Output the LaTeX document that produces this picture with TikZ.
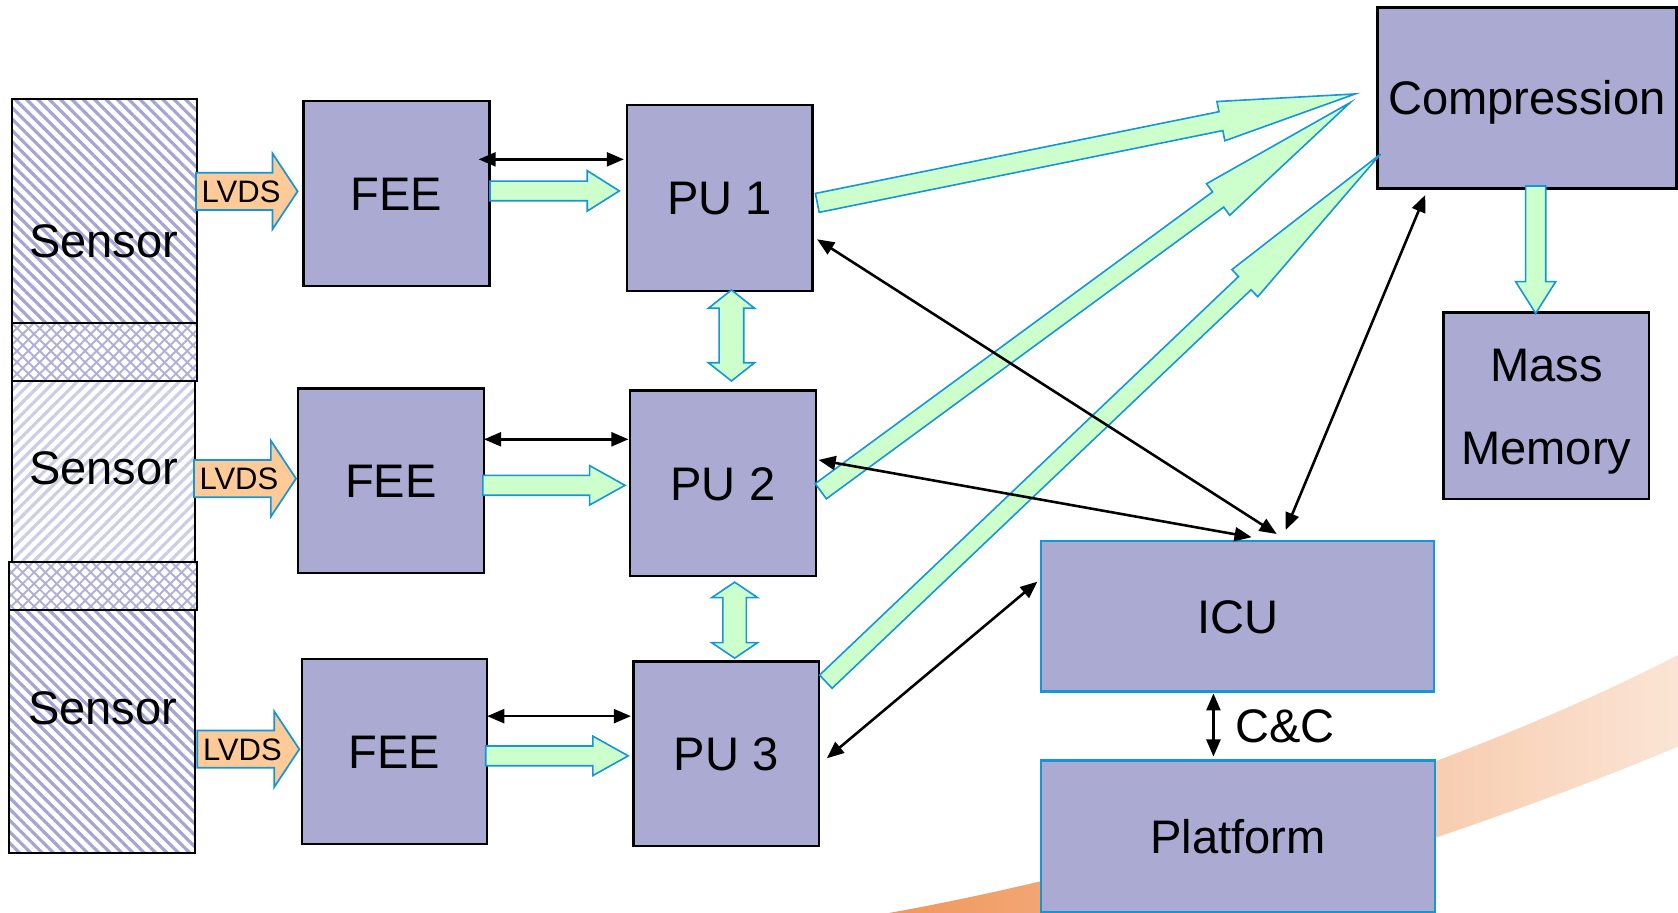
\documentclass[tikz,border=0pt]{standalone}
\usepackage{fontspec}
\setmainfont{Liberation Sans}
\usetikzlibrary{calc,arrows.meta,patterns.meta}
\definecolor{boxfill}{RGB}{170,170,211}
\definecolor{arrblue}{RGB}{20,150,215}
\definecolor{grn}{RGB}{204,255,204}
\definecolor{lvdsfill}{RGB}{253,202,152}
\definecolor{hatchA}{RGB}{165,165,212}
\definecolor{hatchB}{RGB}{205,205,230}
\definecolor{hatchC}{RGB}{175,175,215}
\definecolor{swL}{RGB}{240,150,90}
\definecolor{swR}{RGB}{251,229,214}
% block arrow: [style]{tail}{tip}{half shaft}{half head}{head length}
\newcommand\blockarrow[6][]{%
  \coordinate (baH) at ($(#3)!#6!(#2)$);
  \draw[#1] ($(#2)!#4!90:(#3)$) -- ($(baH)!#4!90:(#3)$) -- ($(baH)!#5!90:(#3)$) -- (#3)
    -- ($(baH)!#5!-90:(#3)$) -- ($(baH)!#4!-90:(#3)$) -- ($(#2)!#4!-90:(#3)$) -- cycle;}
% double block arrow: [style]{tipA}{tipB}{half shaft}{half head}{head length}
\newcommand\dblarrow[6][]{%
  \coordinate (dbA) at ($(#2)!#6!(#3)$);
  \coordinate (dbB) at ($(#3)!#6!(#2)$);
  \draw[#1] (#2) -- ($(dbA)!#5!90:(#3)$) -- ($(dbA)!#4!90:(#3)$) -- ($(dbB)!#4!-90:(#2)$)
    -- ($(dbB)!#5!-90:(#2)$) -- (#3) -- ($(dbB)!#5!90:(#2)$) -- ($(dbB)!#4!90:(#2)$)
    -- ($(dbA)!#4!-90:(#3)$) -- ($(dbA)!#5!-90:(#3)$) -- cycle;}
\begin{document}
\begin{tikzpicture}[x=1pt,y=-1pt,
  box/.style={draw=black, line width=2.2pt, fill=boxfill, inner sep=0pt,
    font=\fontsize{44}{52}\selectfont, text height=31.7pt, text depth=0pt},
  bluebox/.style={box, draw=arrblue, line width=2pt},
  sz/.style 2 args={minimum width=#1pt, minimum height=#2pt},
  lbl/.style={inner sep=0pt, font=\fontsize{44}{52}\selectfont, text height=31.7pt, text depth=0pt},
  lvdstext/.style={inner sep=0pt, font=\fontsize{29}{34}\selectfont, text height=20.9pt, text depth=0pt},
  garrow/.style={fill=grn, draw=arrblue, line width=1.5pt, line join=miter},
  lvds/.style={fill=lvdsfill, draw=arrblue, line width=1.6pt, line join=miter},
  blk/.style={line width=2.4pt, {Triangle[length=16pt,width=13pt]}-{Triangle[length=16pt,width=13pt]}},
  hatchL/.style={pattern={Lines[angle=-45,distance=7.5pt,line width=3pt]}, pattern color=hatchA},
  hatchR/.style={pattern={Lines[angle=45,distance=7.5pt,line width=3pt]}, pattern color=hatchB},
  hatchX/.style={pattern={Lines[angle=45,distance=7.5pt,line width=1.8pt]}, pattern color=hatchC},
  hatchY/.style={pattern={Lines[angle=-45,distance=7.5pt,line width=1.8pt]}, pattern color=hatchC},
  sensline/.style={draw=black, line width=2pt}]
\useasboundingbox (0,0) rectangle (1568,853);
\fill[white] (0,0) rectangle (1568,853);

% background swoosh
\begin{scope}
\clip (0,0) rectangle (1568,853);
\shade[left color=swL, right color=swR] (820,855) .. controls (1050,815) and (1350,725) .. (1572,610)
  -- (1572,696) .. controls (1420,760) and (1250,815) .. (1100,858) -- cycle;
\end{scope}

% sensors
\fill[white] (10.9,92.8) rectangle (183.8,302.1);
\fill[hatchL] (10.9,92.8) rectangle (183.8,302.1);
\draw[sensline] (10.9,92.8) rectangle (183.8,302.1);
\fill[white] (10.9,302.1) rectangle (183.8,355.7);
\fill[hatchX] (10.9,302.1) rectangle (183.8,355.7);
\fill[hatchY] (10.9,302.1) rectangle (183.8,355.7);
\draw[sensline] (10.9,302.1) rectangle (183.8,355.7);
\fill[white] (10.9,355.7) rectangle (182.2,524.8);
\fill[hatchR] (10.9,355.7) rectangle (182.2,524.8);
\draw[sensline] (10.9,355.7) rectangle (182.2,524.8);
\fill[white] (8.7,524.8) rectangle (183.8,570);
\fill[hatchX] (8.7,524.8) rectangle (183.8,570);
\fill[hatchY] (8.7,524.8) rectangle (183.8,570);
\draw[sensline] (8.7,524.8) rectangle (183.8,570);
\fill[white] (8.7,570) rectangle (182.2,797.3);
\fill[hatchL] (8.7,570) rectangle (182.2,797.3);
\draw[sensline] (8.7,570) rectangle (182.2,797.3);
\node[lbl] (S1) at (97,224.5) {Sensor};
\node[lbl] (S2) at (97,436.5) {Sensor};
\node[lbl] (S3) at (96,661.5) {Sensor};

% boxes
\node[box, sz={173.5}{173.1}] (FEE1) at (370.5,180.7) {FEE};
\node[box, sz={173.2}{173.8}] (PU1) at (672.6,185) {PU 1};
\node[box, sz={173.8}{172.8}] (FEE2) at (365.3,449.3) {FEE};
\node[box, sz={173.5}{172.9}] (PU2) at (675.5,451.5) {PU 2};
\node[box, sz={173.2}{172.8}] (FEE3) at (368.6,702.2) {FEE};
\node[box, sz={173.2}{172.5}] (PU3) at (678.6,704.3) {PU 3};
\node[box, sz={279.5}{169}] (COMP) at (1426.8,91.5) {Compression};
\node[box, sz={192}{174}] (MM) at (1445,379) {};
\node[lbl] (MMa) at (1445,341) {Mass};
\node[lbl] (MMb) at (1445,418) {Memory};
\node[bluebox, sz={367.5}{141}] (ICU) at (1156.5,575.7) {ICU};
\node[bluebox, sz={368}{141.4}] (PLAT) at (1157,781.3) {Platform};

% LVDS arrows
\coordinate (lv1s) at (183.1,178.8); \coordinate (lv1e) at (278.1,178.8);
\coordinate (lv2s) at (181.3,447.2); \coordinate (lv2e) at (276.6,447.2);
\coordinate (lv3s) at (184.4,700.1); \coordinate (lv3e) at (279.7,700.1);
\blockarrow[lvds]{lv1s}{lv1e}{17.4pt}{35.5pt}{23.5pt}
\blockarrow[lvds]{lv2s}{lv2e}{17.4pt}{35.5pt}{23.5pt}
\blockarrow[lvds]{lv3s}{lv3e}{17.4pt}{35.5pt}{23.5pt}
\node[lvdstext] (L1) at (225.3,178.8) {LVDS};
\node[lvdstext] (L2) at (223.3,447.2) {LVDS};
\node[lvdstext] (L3) at (226.5,700.1) {LVDS};

% FEE -> PU data arrows
\coordinate (fp1s) at (457.9,178.4); \coordinate (fp1e) at (578.7,178.4);
\coordinate (fp2s) at (451.2,453.5); \coordinate (fp2e) at (584,453.5);
\coordinate (fp3s) at (453.9,706.3); \coordinate (fp3e) at (587,706.3);
\blockarrow[garrow]{fp1s}{fp1e}{9.2pt}{18.9pt}{30pt}
\blockarrow[garrow]{fp2s}{fp2e}{9.3pt}{18.4pt}{33pt}
\blockarrow[garrow]{fp3s}{fp3e}{9.2pt}{18.4pt}{33pt}

% PU <-> PU
\coordinate (pp1a) at (683.5,271); \coordinate (pp1b) at (683.5,356);
\coordinate (pp2a) at (686.5,544); \coordinate (pp2b) at (686.5,615);
\dblarrow[garrow]{pp1a}{pp1b}{11.5pt}{21.5pt}{17pt}
\dblarrow[garrow]{pp2a}{pp2b}{11pt}{21.5pt}{14.5pt}

% PU -> Compression
\coordinate (pc1s) at (763.7,189.6); \coordinate (pc1e) at (1266.3,87.8);
\coordinate (pc2s) at (767,459); \coordinate (pc2e) at (1261.6,95.9);
\coordinate (pc3s) at (771.7,637); \coordinate (pc3e) at (1290,144);
\blockarrow[garrow]{pc1s}{pc1e}{9pt}{18.7pt}{128pt}
\blockarrow[garrow]{pc2s}{pc2e}{8.8pt}{18.3pt}{153pt}
\blockarrow[garrow]{pc3s}{pc3e}{8.5pt}{17.5pt}{175pt}

% Compression -> Mass Memory
\coordinate (cms) at (1435,173.8); \coordinate (cme) at (1435,292.8);
\blockarrow[garrow]{cms}{cme}{9.4pt}{18.7pt}{29.6pt}

% black control links
\coordinate (b1a) at (447.2,148.9); \coordinate (b1b) at (583,148.9);
\coordinate (b2a) at (452.2,410.5); \coordinate (b2b) at (587.3,410.5);
\coordinate (b3a) at (455.2,669.2); \coordinate (b3b) at (589.6,669.2);
\coordinate (d1a) at (763.5,223.6); \coordinate (d1b) at (1193,499);
\coordinate (d2a) at (764.9,429.8); \coordinate (d2b) at (1169.6,502);
\coordinate (d3a) at (1331.8,182.2); \coordinate (d3b) at (1201.4,495.2);
\coordinate (d4a) at (772.6,708.6); \coordinate (d4b) at (969.4,543.5);
\coordinate (cca) at (1133.9,647.9); \coordinate (ccb) at (1133.9,707);
\draw[blk] (b1a) -- (b1b);
\draw[blk] (b2a) -- (b2b);
\draw[blk] (b3a) -- (b3b);
\draw[blk] (d1a) -- (d1b);
\draw[blk] (d2a) -- (d2b);
\draw[blk] (d3a) -- (d3b);
\draw[blk] (d4a) -- (d4b);
\draw[blk] (cca) -- (ccb);
\node[lbl] (CC) at (1201,678) {C\&C};
\end{tikzpicture}
\end{document}
